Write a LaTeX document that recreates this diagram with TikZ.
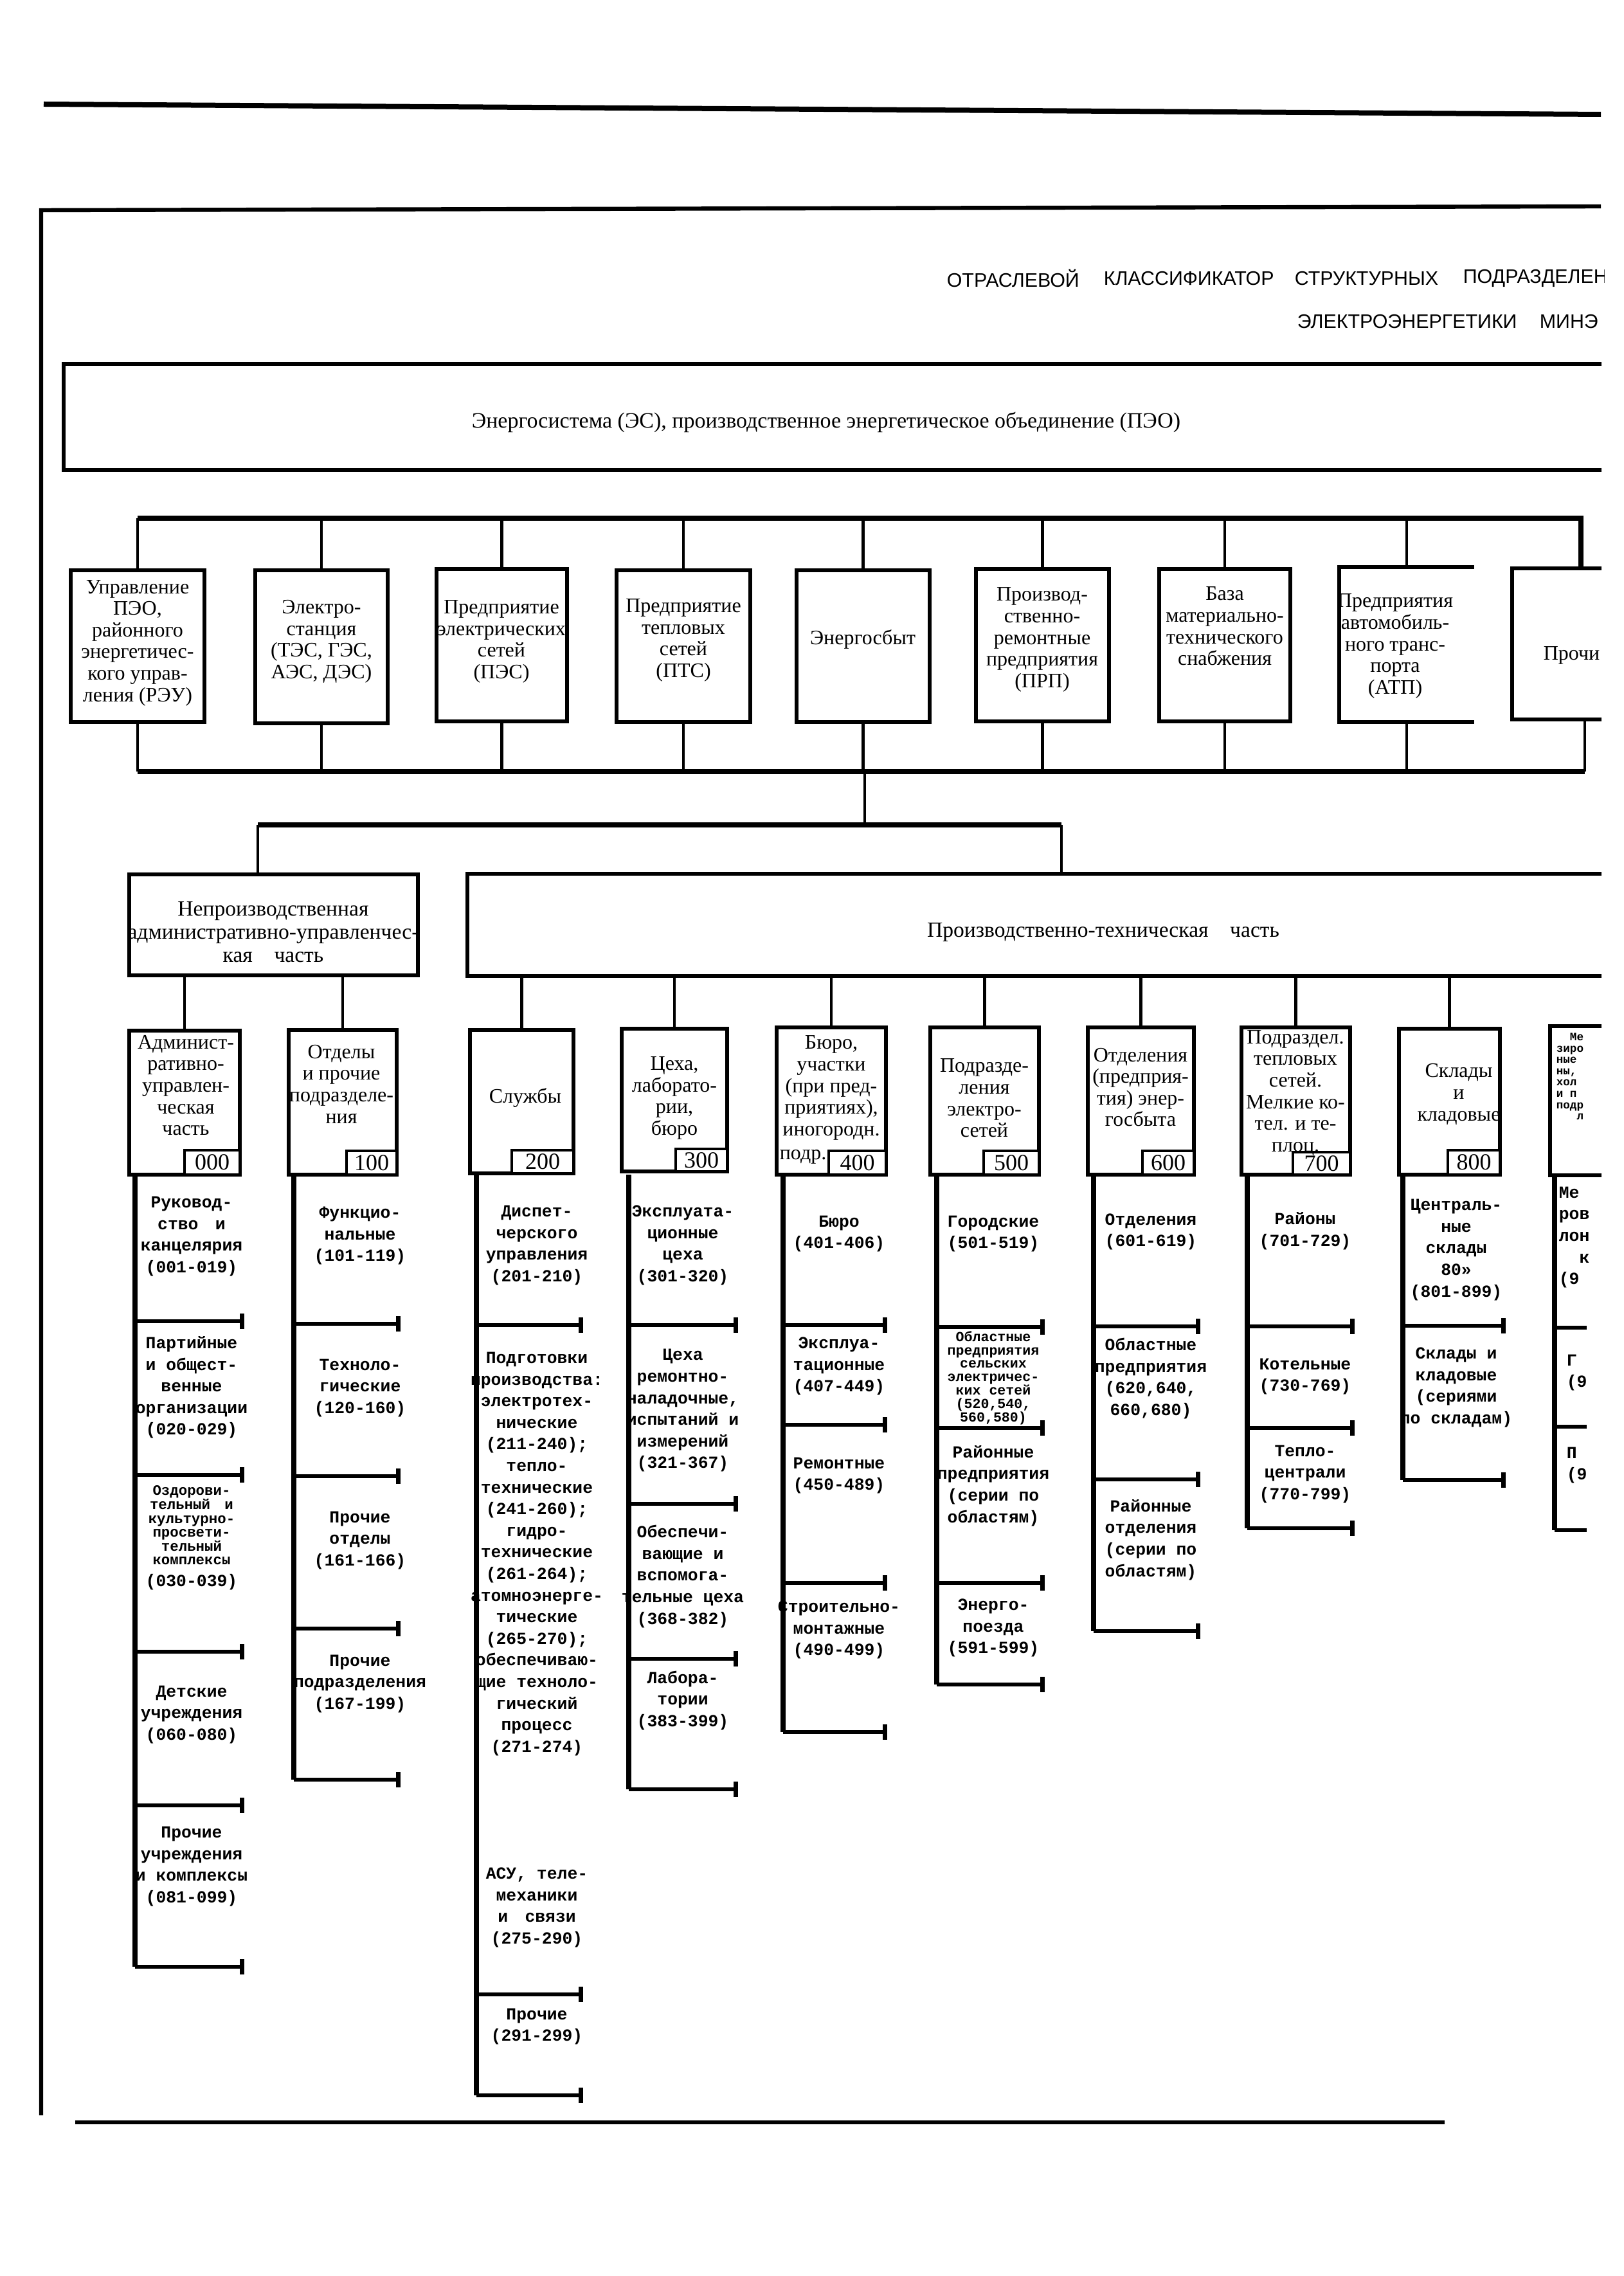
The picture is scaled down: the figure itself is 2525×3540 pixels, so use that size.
\documentclass[tikz,border=0pt]{standalone}
\usepackage{fontspec}
\setmainfont{Liberation Serif}
\newfontfamily\titlef{Liberation Sans}
\newfontfamily\listf{Liberation Mono}
\usetikzlibrary{fit,arrows.meta}
\tikzset{
 bus/.style={line width=1.8pt},
 stem/.style={line width=1.1pt},
 frm/.style={line width=1.6pt},
 boxst/.style={draw, line width=1.6pt, inner sep=0pt},
 ghost/.style={inner sep=0pt},
 codest/.style={draw, line width=1.2pt, inner sep=0pt, fill=white},
 codetxt/.style={font=\fontsize{9}{9}\selectfont, inner sep=0pt},
 btxt/.style={font=\fontsize{8}{8.4}\selectfont, align=center, inner sep=0pt},
 ltxt/.style={font=\listf\bfseries\fontsize{6.6}{8.4}\selectfont, align=center, inner sep=0pt},
 ltxtl/.style={font=\listf\bfseries\fontsize{6.6}{8.4}\selectfont, align=left, inner sep=0pt, anchor=west},
 vlist/.style={line width=1.9pt},
 ticke/.style={line width=1.6pt, -{Bar[width=6pt,line width=1.8pt]}},
 tickn/.style={line width=1.6pt},
 ttl/.style={font=\titlef\fontsize{7.6}{7.6}\selectfont, inner sep=0pt, anchor=west},
}
\newcommand\rbox[3]{\node[boxst, fit={#2 #3}] (#1) {};}
\newcommand\cbox[4]{\node[codest, fit={#2 #3}] (#1) {}; \node[codetxt] (#1t) at (#1.center) {#4};}
\newcommand\lcol[5]{%
  \coordinate (#1top) at (#2,1827);
  \coordinate (#1bot) at (#2,#5);
  \draw[vlist] (#1top) -- (#1bot);
  \foreach \yy [count=\k] in {#4} {%
    \coordinate (#1k\k) at (#2,\yy);
    \coordinate (#1e\k) at (#3,\yy);
    \draw[ticke] (#1k\k) -- (#1e\k);}%
}
\begin{document}
\begin{tikzpicture}[x=0.25pt,y=-0.25pt]
\useasboundingbox (0,0) rectangle (2525,3540);
\fill[white] (0,0) rectangle (2525,3540);
\begin{scope}
\clip (0,0) rectangle (2495,3540);
% top rule and frame
\coordinate (rl) at (68,162);
\coordinate (rr) at (2490,178);
\draw[line width=2pt] (rl) -- (rr);
\coordinate (fTR) at (2490,321);
\coordinate (fTL) at (64,327);
\coordinate (fBL) at (64,3290);
\draw[frm] (fTR) -- (fTL) -- (fBL);
\coordinate (bl1) at (117,3301);
\coordinate (bl2) at (2247,3301);
\draw[frm] (bl1) -- (bl2);
% title
\node[ttl] (t1) at (1472,433) {ОТРАСЛЕВОЙ};
\node[ttl] (t2) at (1716,433) {КЛАССИФИКАТОР};
\node[ttl] (t3) at (2013,433) {СТРУКТУРНЫХ};
\node[ttl] (t4) at (2275,433) {ПОДРАЗДЕЛЕН};
\node[ttl] (t5) at (2017,500) {ЭЛЕКТРОЭНЕРГЕТИКИ};
\node[ttl] (t6) at (2394,500) {МИНЭ};
% energosistema box (open to the right)
\node[ghost, fit={(100,567) (2490,730)}] (es) {};
\draw[frm] (es.north east) -- (es.north west) -- (es.south west) -- (es.south east);
\node[font=\fontsize{8.5}{8.5}\selectfont, inner sep=0pt] (est) at (1285,657) {Энергосистема (ЭС), производственное энергетическое объединение (ПЭО)};
% top level boxes
\rbox{b1}{(110,887)}{(318,1123)}
\rbox{b2}{(397,887)}{(603,1125)}
\rbox{b3}{(679,885)}{(882,1122)}
\rbox{b4}{(959,887)}{(1167,1123)}
\rbox{b5}{(1239,887)}{(1446,1123)}
\rbox{b6}{(1518,885)}{(1725,1122)}
\rbox{b7}{(1803,885)}{(2007,1122)}
\node[ghost, fit={(2084,883) (2292,1122)}] (b8) {};
\draw[boxst] (b8.north east) -- (b8.north west) -- (b8.south west) -- (b8.south east);
\node[ghost, fit={(2353,885) (2490,1118)}] (b9) {};
\draw[boxst] (b9.north east) -- (b9.north west) -- (b9.south west) -- (b9.south east);
\node[btxt] (b1t) at (214,1000) {Управление\\ПЭО,\\районного\\энергетичес-\\кого управ-\\ления (РЭУ)};
\node[btxt] (b2t) at (500,998) {Электро-\\станция\\(ТЭС, ГЭС,\\АЭС, ДЭС)};
\node[btxt] (b3t) at (780,998) {Предприятие\\электрических\\сетей\\(ПЭС)};
\node[btxt] (b4t) at (1063,996) {Предприятие\\тепловых\\сетей\\(ПТС)};
\node[btxt] (b5t) at (1342,994) {Энергосбыт};
\node[btxt] (b6t) at (1621,995) {Производ-\\ственно-\\ремонтные\\предприятия\\(ПРП)};
\node[btxt] (b7t) at (1905,974) {База\\материально-\\технического\\снабжения};
\node[btxt] (b8t) at (2170,1005) {Предприятия\\автомобиль-\\ного транс-\\порта\\(АТП)};
\node[btxt, anchor=west] (b9t) at (2400,1019) {Прочи};
% top bus
\coordinate (busL) at (214,806);
\coordinate (busR) at (2459,806);
\draw[bus] (busL) -- (busR) -- (busR |- b9.north);
\foreach \b in {b1,b2,b3,b4,b5,b6,b7,b8} {\draw[stem] (\b.north) -- (\b.north |- busL);}
% bottom bus
\coordinate (bbL) at (214,1200);
\coordinate (bbR) at (2465,1200);
\coordinate (bbC) at (1345,1200);
\draw[bus] (bbL) -- (bbR);
\foreach \b in {b1,b2,b3,b4,b5,b6,b7,b8} {\draw[stem] (\b.south) -- (\b.south |- bbL);}
\draw[stem] (bbR |- b9.south) -- (bbR);
% second level
\coordinate (sbL) at (401,1283);
\coordinate (sbR) at (1651,1283);
\draw[stem] (bbC) -- (bbC |- sbL);
\draw[bus] (sbL) -- (sbR);
\rbox{nb}{(201,1360)}{(650,1517)}
\node[ghost, fit={(728,1360) (2490,1517)}] (pb) {};
\draw[boxst] (pb.north east) -- (pb.north west) -- (pb.south west) -- (pb.south east);
\draw[stem] (sbL) -- (sbL |- nb.north);
\draw[stem] (sbR) -- (sbR |- pb.north);
\node[font=\fontsize{8.4}{9}\selectfont, align=center, inner sep=0pt] (nbt) at (425,1450) {Непроизводственная\\административно-управленчес-\\кая\quad часть};
\node[font=\fontsize{8.4}{9}\selectfont, inner sep=0pt] (pbt) at (1716,1450) {Производственно-техническая\quad часть};
% third level boxes
\rbox{c0}{(201,1603)}{(373,1827)}
\rbox{c1}{(449,1602)}{(617,1827)}
\rbox{c2}{(731,1602)}{(892,1825)}
\rbox{c3}{(967,1600)}{(1131,1822)}
\rbox{c4}{(1208,1598)}{(1378,1827)}
\rbox{c5}{(1447,1598)}{(1616,1827)}
\rbox{c6}{(1692,1598)}{(1857,1827)}
\rbox{c7}{(1931,1598)}{(2100,1827)}
\rbox{c8}{(2176,1600)}{(2333,1827)}
\foreach \c in {c0,c1} {\draw[stem] (\c.north) -- (\c.north |- nb.south);}
\foreach \c in {c2,c3,c4,c5,c6,c7,c8} {\draw[stem] (\c.north) -- (\c.north |- pb.south);}
\cbox{k0}{(287,1789)}{(373,1827)}{000}
\cbox{k1}{(539,1790)}{(617,1827)}{100}
\cbox{k2}{(796,1789)}{(892,1825)}{200}
\cbox{k3}{(1051,1787)}{(1131,1822)}{300}
\cbox{k4}{(1289,1790)}{(1378,1827)}{400}
\cbox{k5}{(1530,1790)}{(1616,1827)}{500}
\cbox{k6}{(1777,1790)}{(1857,1827)}{600}
\cbox{k7}{(2011,1792)}{(2100,1827)}{700}
\cbox{k8}{(2252,1789)}{(2333,1827)}{800}
\node[btxt] (c0t) at (289,1688) {Админист-\\ративно-\\управлен-\\ческая\\часть};
\node[btxt] (c1t) at (531,1686) {Отделы\\и прочие\\подразделе-\\ния};
\node[btxt] (c2t) at (817,1707) {Службы};
\node[btxt] (c3t) at (1049,1708) {Цеха,\\лаборато-\\рии,\\бюро};
\node[btxt] (c4t) at (1293,1692) {Бюро,\\участки\\(при пред-\\приятиях),\\иногородн.};
\node[btxt, anchor=west] (c4u) at (1212,1799) {подр.};
\node[btxt] (c5t) at (1531,1708) {Подразде-\\ления\\электро-\\сетей};
\node[btxt] (c6t) at (1774,1691) {Отделения\\(предприя-\\тия) энер-\\госбыта};
\node[btxt] (c7t) at (2015,1700) {Подраздел.\\тепловых\\сетей.\\Мелкие ко-\\тел. и те-\\плоц.};
\node[btxt] (c8t) at (2269,1702) {Склады\\и\\кладовые};
% partial box 900
\node[ghost, fit={(2412,1597) (2490,1827)}] (c9) {};
\draw[boxst] (c9.north east) -- (c9.north west) -- (c9.south west) -- (c9.south east);
\node[font=\listf\bfseries\fontsize{4.4}{4.4}\selectfont, align=left, inner sep=0pt, anchor=north west] (c9t) at (2420,1606) {\ \ Ме\\зиро\\ные\\ны,\\хол\\и п\\подр\\\ \ \ л};
% lists
\lcol{a}{210}{380}{2055,2294,2569,2808,3059}{3059}
\lcol{b}{457}{623}{2059,2296,2533,2768}{2768}
\lcol{c}{741}{907}{2061,3102,3259}{3259}
\lcol{d}{978}{1148}{2061,2339,2580,2783}{2783}
\lcol{e}{1218}{1380}{2061,2216,2462,2694}{2694}
\lcol{f}{1457}{1625}{2064,2221,2462,2620}{2620}
\lcol{g}{1701}{1867}{2063,2301,2537}{2537}
\lcol{h}{1940}{2107}{2063,2221,2377}{2377}
\lcol{i}{2182}{2342}{2062,2302}{2302}
\coordinate (jtop) at (2418,1827);
\coordinate (jbot) at (2418,2380);
\draw[vlist] (jtop) -- (jbot);
\foreach \yy [count=\k] in {2065,2219,2380} {\coordinate (jk\k) at (2418,\yy); \coordinate (je\k) at (2468,\yy); \draw[tickn] (jk\k) -- (je\k);}
% list texts col 000
\node[ltxt] (l00) at (298,1923) {Руковод-\\ство\quad и\\канцелярия\\(001-019)};
\node[ltxt] (l01) at (298,2158) {Партийные\\и общест-\\венные\\организации\\(020-029)};
\node[font=\listf\bfseries\fontsize{5.6}{5.4}\selectfont, align=center, inner sep=0pt] (l02) at (298,2392) {Оздорови-\\тельный\quad и\\культурно-\\просвети-\\тельный\\комплексы\\[3pt]\fontsize{6.6}{8}\selectfont(030-039)};
\node[ltxt] (l03) at (298,2667) {Детские\\учреждения\\(060-080)};
\node[ltxt] (l04) at (298,2903) {Прочие\\учреждения\\и комплексы\\(081-099)};
% col 100
\node[ltxt] (l10) at (560,1922) {Функцио-\\нальные\\(101-119)};
\node[ltxt] (l11) at (560,2159) {Техноло-\\гические\\(120-160)};
\node[ltxt] (l12) at (560,2396) {Прочие\\отделы\\(161-166)};
\node[ltxt] (l13) at (560,2619) {Прочие\\подразделения\\(167-199)};
% col 200
\node[ltxt] (l20) at (835,1937) {Диспет-\\черского\\управления\\(201-210)};
\node[ltxt] (l21) at (835,2417) {Подготовки\\производства:\\электротех-\\нические\\(211-240);\\тепло-\\технические\\(241-260);\\гидро-\\технические\\(261-264);\\атомноэнерге-\\тические\\(265-270);\\обеспечиваю-\\щие техноло-\\гический\\процесс\\(271-274)};
\node[ltxt] (l22) at (835,2967) {АСУ, теле-\\механики\\и\quad связи\\(275-290)};
\node[ltxt] (l23) at (835,3152) {Прочие\\(291-299)};
% col 300
\node[ltxt] (l30) at (1062,1937) {Эксплуата-\\ционные\\цеха\\(301-320)};
\node[ltxt] (l31) at (1062,2194) {Цеха\\ремонтно-\\наладочные,\\испытаний и\\измерений\\(321-367)};
\node[ltxt] (l32) at (1062,2452) {Обеспечи-\\вающие и\\вспомога-\\тельные цеха\\(368-382)};
\node[ltxt] (l33) at (1062,2645) {Лабора-\\тории\\(383-399)};
% col 400
\node[ltxt] (l40) at (1305,1919) {Бюро\\(401-406)};
\node[ltxt] (l41) at (1305,2125) {Эксплуа-\\тационные\\(407-449)};
\node[ltxt] (l42) at (1305,2295) {Ремонтные\\(450-489)};
\node[ltxt] (l43) at (1305,2535) {Строительно-\\монтажные\\(490-499)};
% col 500
\node[ltxt] (l50) at (1545,1919) {Городские\\(501-519)};
\node[font=\listf\bfseries\fontsize{5.4}{5.2}\selectfont, align=center, inner sep=0pt] (l51) at (1545,2143) {Областные\\предприятия\\сельских\\электричес-\\ких сетей\\(520,540,\\560,580)};
\node[ltxt] (l52) at (1545,2311) {Районные\\предприятия\\(серии по\\областям)};
\node[ltxt] (l53) at (1545,2532) {Энерго-\\поезда\\(591-599)};
% col 600
\node[ltxt] (l60) at (1790,1916) {Отделения\\(601-619)};
\node[ltxt] (l61) at (1790,2144) {Областные\\предприятия\\(620,640,\\660,680)};
\node[ltxt] (l62) at (1790,2395) {Районные\\отделения\\(серии по\\областям)};
% col 700
\node[ltxt] (l70) at (2030,1915) {Районы\\(701-729)};
\node[ltxt] (l71) at (2030,2141) {Котельные\\(730-769)};
\node[ltxt] (l72) at (2030,2293) {Тепло-\\централи\\(770-799)};
% col 800
\node[ltxt] (l80) at (2265,1944) {Централь-\\ные\\склады\\80»\\(801-899)};
\node[ltxt] (l81) at (2265,2158) {Склады и\\кладовые\\(сериями\\по складам)};
% col 900 fragments
\node[ltxtl, align=left, anchor=north west] (l90) at (2424,1845) {Ме\\ров\\лон\\\ \ к\\(9};
\node[ltxtl, align=left, anchor=north west] (l91) at (2436,2106) {Г\\(9};
\node[ltxtl, align=left, anchor=north west] (l92) at (2436,2250) {П\\(9};
\end{scope}
\end{tikzpicture}
\end{document}
